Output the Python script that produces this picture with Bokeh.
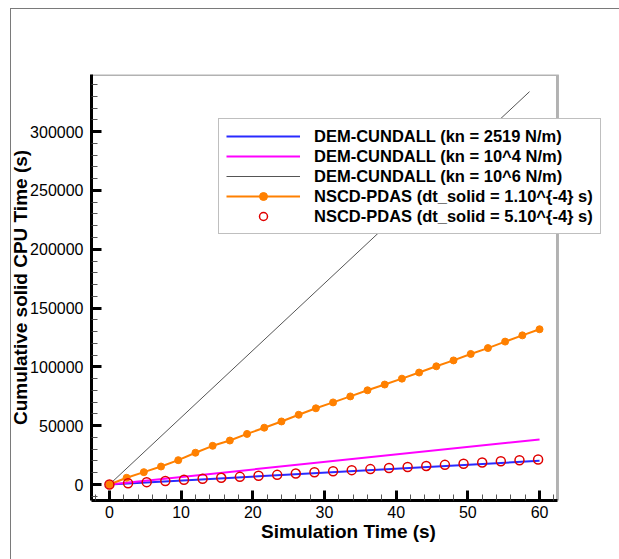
from bokeh.plotting import figure
from bokeh.models import (Range1d, FixedTicker, BasicTickFormatter, Legend,
                          LegendItem, BoxAnnotation)
from bokeh.embed import file_html
from bokeh.resources import INLINE

# ---- data ----
t_gray = [0, 58.6]
cpu_gray = [0, 334000]

t_magenta = [0, 60]
cpu_magenta = [0, 38300]

t_blue = [0, 60]
cpu_blue = [0, 20100]

t_orange = [0, 2.4, 4.8, 7.2, 9.6, 12, 14.4, 16.8, 19.2, 21.6, 24, 26.4, 28.8,
            31.2, 33.6, 36, 38.4, 40.8, 43.2, 45.6, 48, 50.4, 52.8, 55.2, 57.6, 60]
cpu_orange = [0, 5700, 10500, 15300, 20700, 27000, 32900, 37400, 43000, 48300,
              53600, 59300, 64800, 69800, 74900, 80100, 85000, 90000, 95200,
              100500, 105500, 111000, 116000, 121500, 126800, 132000]

t_red = [0, 2.6, 5.2, 7.8, 10.4, 13, 15.6, 18.2, 20.8, 23.4, 26, 28.6, 31.2,
         33.8, 36.4, 39, 41.6, 44.2, 46.8, 49.4, 52, 54.6, 57.2, 59.8]
cpu_red = [0, 1000, 2000, 3000, 4000, 4900, 5700, 6500, 7400, 8200, 9300, 10400,
           11300, 12200, 13100, 14000, 14900, 15800, 16700, 17700, 18700, 19700,
           20600, 21300]

x_ticks = [0, 10, 20, 30, 40, 50, 60]
x_minor = [-2, 2, 4, 6, 8, 12, 14, 16, 18, 22, 24, 26, 28, 32, 34, 36, 38,
           42, 44, 46, 48, 52, 54, 56, 58, 62]
y_ticks = [0, 50000, 100000, 150000, 200000, 250000, 300000]
y_minor = [-10000, 10000, 20000, 30000, 40000, 60000, 70000, 80000, 90000,
           110000, 120000, 130000, 140000, 160000, 170000, 180000, 190000,
           210000, 220000, 230000, 240000, 260000, 270000, 280000, 290000,
           310000, 320000, 330000, 340000]

labels = ["DEM-CUNDALL (kn = 2519 N/m)",
          "DEM-CUNDALL (kn = 10^4 N/m)",
          "DEM-CUNDALL (kn = 10^6 N/m)",
          "NSCD-PDAS (dt_solid = 1.10^{-4} s)",
          "NSCD-PDAS (dt_solid = 5.10^{-4} s)"]

X_MIN, X_MAX = -2.5, 62.5
Y_MIN, Y_MAX = -13600, 348600
FONT = "Liberation Sans"

# frame is widened to the right so that the legend (which overhangs the
# axes box in the reference) is not clipped; the axes box is drawn explicitly
p = figure(output_backend="svg", toolbar_location=None,
           x_range=Range1d(X_MIN, 69.2), y_range=Range1d(Y_MIN, Y_MAX),
           min_border_left=86, min_border_right=14, min_border_top=66,
           min_border_bottom=59, frame_width=514, frame_height=426)
# thin grey page frame (left + top) drawn as inset shadows behind the canvas
p.styles = {"margin-left": "5px", "margin-top": "8px",
            "box-shadow": "inset 5px 0 0 0 #ffffff, inset 6px 1px 0 0 #7a7a7a"}

p.grid.visible = False
p.outline_line_color = None
p.background_fill_color = "white"
p.border_fill_alpha = 0

for ax in (p.xaxis[0], p.yaxis[0]):
    ax.axis_line_width = 3
    ax.axis_line_color = "black"
    ax.major_tick_in = 10
    ax.major_tick_out = 0
    ax.major_tick_line_width = 3
    ax.minor_tick_in = 6
    ax.minor_tick_out = 0
    ax.minor_tick_line_width = 1
    ax.minor_tick_line_color = "#555555"
    ax.major_label_text_font = FONT
    ax.major_label_text_font_size = "16px"
    ax.major_label_text_color = "black"
    ax.axis_label_text_font = FONT
    ax.axis_label_text_font_size = "19px"
    ax.axis_label_text_font_style = "bold"
    ax.axis_label_text_color = "black"

p.xaxis.bounds = (X_MIN, X_MAX)
p.xaxis.ticker = FixedTicker(ticks=x_ticks, minor_ticks=x_minor)
p.yaxis.ticker = FixedTicker(ticks=y_ticks, minor_ticks=y_minor)
p.yaxis.formatter = BasicTickFormatter(use_scientific=False)
p.xaxis.axis_label = "Simulation Time (s)"
p.yaxis.axis_label = "Cumulative solid CPU Time (s)"
p.xaxis.major_label_standoff = 5
p.yaxis.major_label_standoff = 8
p.xaxis.axis_label_standoff = 0
p.yaxis.axis_label_standoff = -4

r_blue = p.line(t_blue, cpu_blue, line_color="#2a2aff", line_width=2)
r_mag = p.line(t_magenta, cpu_magenta, line_color="#ff00ff", line_width=2)
r_gray = p.line(t_gray, cpu_gray, line_color="#555555", line_width=1)
r_or_l = p.line(t_orange, cpu_orange, line_color="#ff8000", line_width=2)
r_or_m = p.scatter(t_orange, cpu_orange, size=7, marker="circle",
                   fill_color="#ff8000", line_color="#ff8000")
r_red = p.scatter(t_red, cpu_red, size=9, marker="circle", fill_color=None,
                  line_color="#e00000", line_width=1.5)

box = BoxAnnotation(left=X_MIN, right=X_MAX, bottom=Y_MIN, top=Y_MAX,
                    fill_color=None, fill_alpha=0, line_color="black",
                    line_width=3)
p.add_layout(box)

legend = Legend(items=[
    LegendItem(label=labels[0], renderers=[r_blue]),
    LegendItem(label=labels[1], renderers=[r_mag]),
    LegendItem(label=labels[2], renderers=[r_gray]),
    LegendItem(label=labels[3], renderers=[r_or_l, r_or_m]),
    LegendItem(label=labels[4], renderers=[r_red]),
], location=(127, 266))
legend.glyph_width = 74
legend.glyph_height = 20
legend.label_height = 20
legend.spacing = 0
legend.padding = 7
legend.margin = 0
legend.label_standoff = 14
legend.label_text_font = FONT
legend.label_text_font_size = "16.5px"
legend.label_text_font_style = "bold"
legend.label_text_color = "black"
legend.border_line_color = "#808080"
legend.border_line_width = 1
legend.background_fill_color = "white"
legend.background_fill_alpha = 1.0
p.add_layout(legend, "center")

open("out.html", "w").write(file_html(p, INLINE))
